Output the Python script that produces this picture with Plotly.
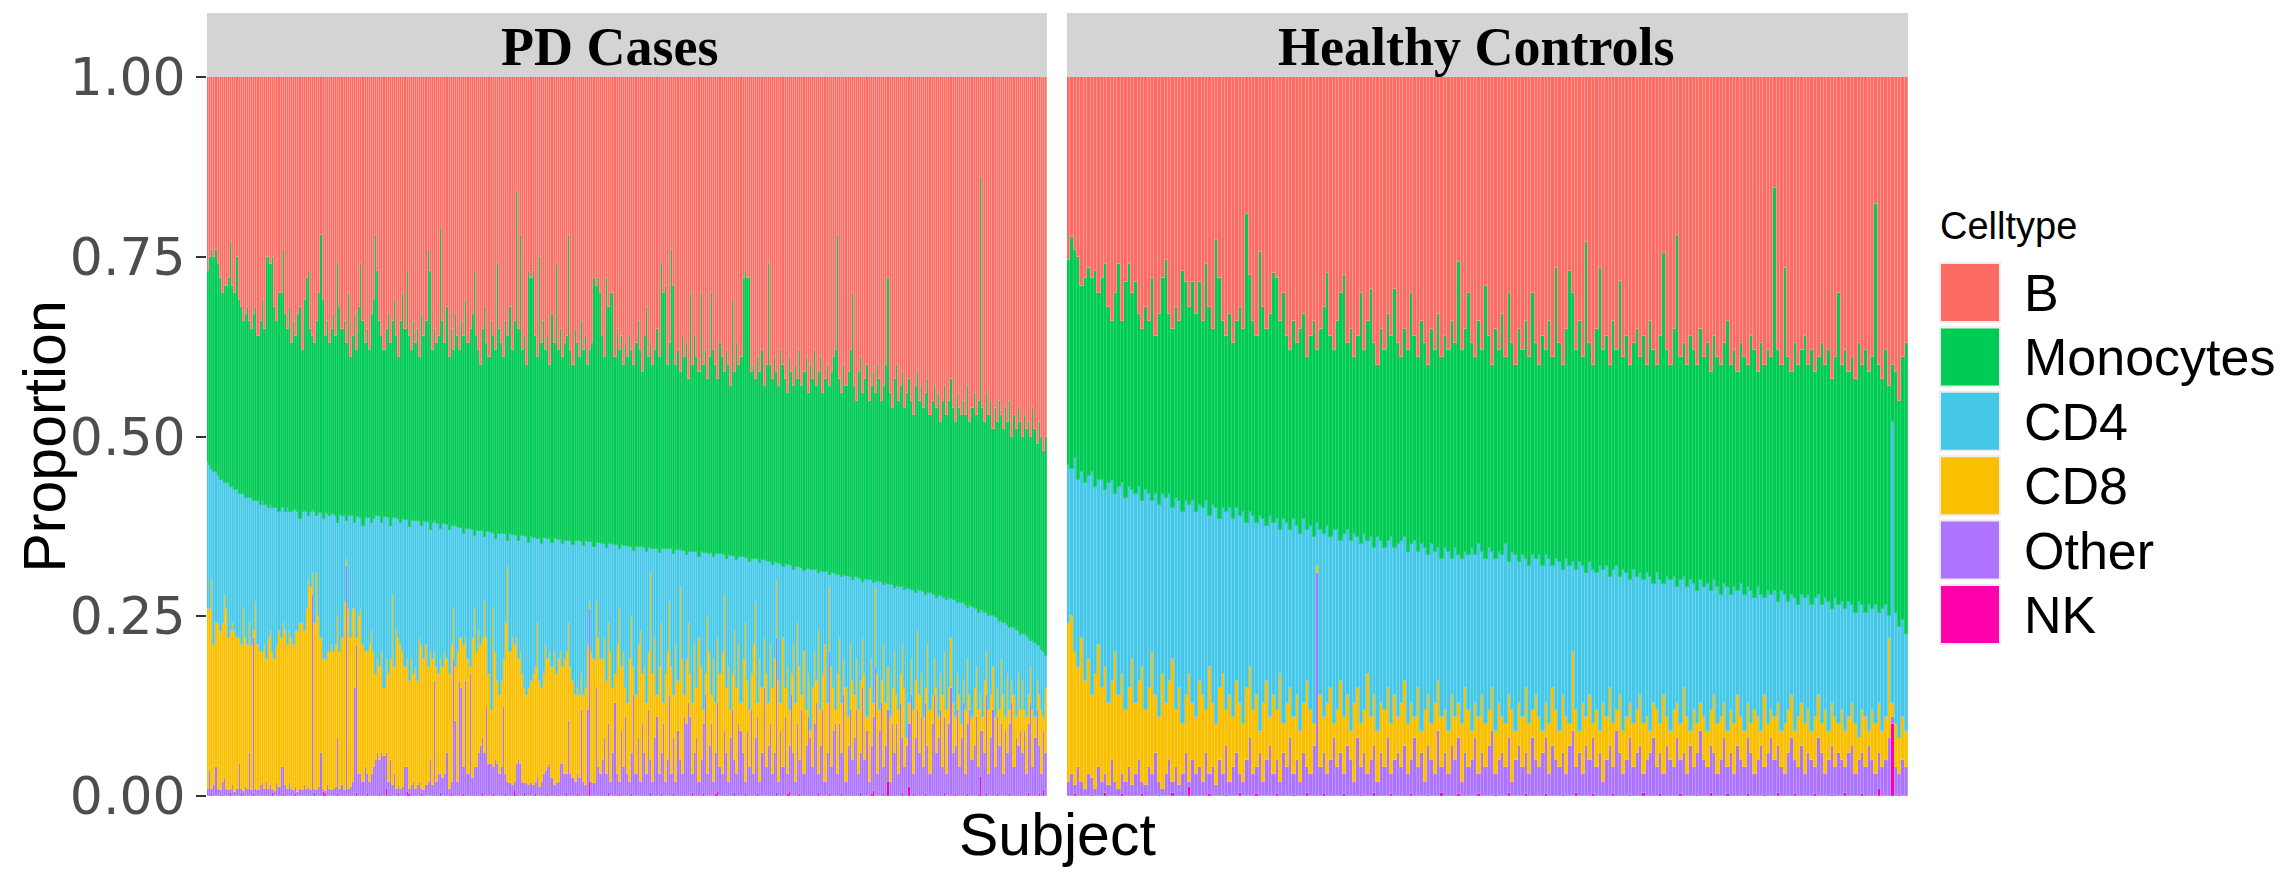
import plotly.graph_objects as go

# ---------------- data (percent, cumulative tops of each stacked layer, bottom -> top) ----------------
celltypes = ["B", "Monocytes", "CD4", "CD8", "Other", "NK"]
colors = {"B": "#FD6C62", "Monocytes": "#00CC55", "CD4": "#45C8E8",
          "CD8": "#F8C000", "Other": "#AD74FF", "NK": "#FF00AA"}
edge_colors = {"B": "#FF968F", "Monocytes": "#2ED371", "CD4": "#6FD5EE",
               "CD8": "#FACB33", "Other": "#BE92FF", "NK": "#FF33BB"}
panels = ["PD Cases", "Healthy Controls"]
y_ticks = [0, 0.25, 0.5, 0.75, 1.0]
y_ticktext = ["0.00", "0.25", "0.50", "0.75", "1.00"]

# ---- PD Cases (400 subjects) ----
pd_nk = [
0,0,0.3,0,0,0,0,0.2,0,0,0,0.4,0,0,0,0,0.3,0,0,0,
0,0,0.3,0,0,0,0,0.2,0,0,0,0.4,0,0,0,0,0.3,0,0,0,
0,0,0.3,0,0,0,0,0.2,0,0,0,0.4,0,0,0,0.6,0.3,0,0,0,
0,0,0.3,0,0,0,0,0.2,0,0,0,0.4,0,0,0,0,0.3,0,0,0,
0,0,0.3,0,0,1.0,0,0.2,0,0,0,0.4,0,0,0,0.6,0.3,0,0,0,
0,0,0.3,0,0,0,0,0.2,0,0,0,0.4,0,0,0,0,0.3,0,0,0,
0,0,0.3,0,0,0,0,0.2,0,0,0,0.4,0,0,0,0,0.3,0,0,0,
0,0,0.3,0,0,0,0.8,0.2,0,0,0,0.4,0,0,0,0,0.3,0,0,0,
0,0,0.3,0,0,0,0,0.2,0,0,0,0.4,0,0,0,0,0.3,0,0,0,
0,0,2.0,0,0,0,0,0.2,0,0,0,0.4,0,0,0,0,0.3,0,0,0,
0,0,0.3,0,0,0,0,0.2,0,0,0,0.4,0,0,0,0,0.3,0,0,0,
0,0,0.3,0,0,0,0,0.2,0,0,0,0.4,0,0,0,0,0.3,0,0,0,
0,0,0.3,0.5,0,0,0,0.2,0,0,0,0.4,0,0,0,0,0.3,0,0,0,
0,0,0.3,0,0,0,0,0.2,0,0,0,0.4,0,0,0,0,0.3,0.5,0,0,
0,0,0.3,0,0,0,0,0.2,0,0,0,0.4,0,0,0,0,0.3,0,0,0,
0,0,0.3,0,0,0,0,0.2,0,0,0,0.4,0,0,0,0,0.3,0.7,0,0,
0,0,0.3,0,1.9,0,0,0.2,0,0,0,0.4,0,0,1.2,0,0.3,0,0,0,
0,0,0.3,0,0,0,0,0.2,0,0,0,0.4,0,0,0,0,0.3,0,0,0,
0,0,0.3,0,0,0,0,0.2,2.6,0,0,0.4,0,0,0,0,0.3,0,0,0,
0,0,0.3,0,0,0,0,0.2,0,0,0,0.4,0,0,0,0,0.3,0,0.8,0]

pd_other_top = [
1,3.5,1,1.5,4,1,0.8,2,2.5,1,0.8,1,1.5,0.5,1,4.5,1,0.7,1.2,1,
6,0.8,22,1,0.8,1.5,1.8,1,2,1,1.5,1,0.7,1.8,1.2,4,4,1.5,1,1.8,
1,0.8,1.2,0.6,1,0.8,1.5,1,1.3,0.9,28,1,0.8,1.2,6,1,0.7,1.5,1,0.8,
1,1.2,8,1,1.5,0.8,32,1,1.2,2,15,21,3,3,2,4,3,2,3,4,
5,6,5,6,5.5,6,2,5,1.5,3,1,1.5,1,1.2,4,4,1,1.5,2,1,
1.5,2,1,0.8,1.5,2,5,1.5,16,2,3,3,2.5,3,6,1,2,19,10.5,2,
16,15,4,16,3,17,2.5,4,4,6,7,8,6,12.4,4.5,4.5,4,5,4.5,3,
4,12.4,3,2,1.8,1.5,2,4.5,5,4.5,2,1.8,1.8,1.6,1.8,1.5,2,2.7,1.3,2,
3,3.5,4,4.5,2.5,1.5,1.8,2,4.5,4.5,3,3,10.5,3,2.5,2,3,2.5,12,2,1.5,12,26,2,1.8,15,4,3,
5,8,3,10,2,6,13,3,2,9,4,11,3,2,6,14,3,8,2,10,
6,3,12,5,2,8,11,3,6,10,2,5,14,3,8,2,9,5,3,11,
10,13,11,3,6,8,2,5,10,14,3,7,10,2,6,13,4,3,9,6,
2,8,12,5,3,10,9,6,2,9,4,12,3,8,11,2,6,15,4,7,
10,3,6,22,2,9,4,11,3,7,14,6,2,10,5,12,3,7,11,8,
4,10,13,3,7,12,2,6,20,4,9,10,3,10,6,14,2,7,12,5,
8,12,3,6,15,5,9,2,7,11,18,3,9,13,4,7,12,2,10,6,
10,3,13,8,4,7,10,14,3,8,12,6,11,4,13,7,3,10,14,6,
8,12,4,11,3,10,15,6,7,12,4,8,13,3,10,12,5,7,11,4,
9,9,6,14,3,8,12,4,11,7,10,3,9,6,10,13,4,8,7,9,
6,9,3,10,13,4,8,12,7,3,9,6]

pd_cd8_top = [
26,26,30,21,24,24,23,24,28,26,22,23,24,23,22,22,21,26,22,21,
24,21,23,27,21,20,20,21,19,22,23,20,19,21,23,22,24,23,21,23,
22,21,23,23,24,24,23,26,30,29,31,24,31,25,22,19,19,20,20,21,
20,21,25,20,22,27,33,26,22,26,26,22,25,26,21,20,20,21,23,20,
17,19,18,20,15,19,17,19,28,18,23,22,21,20,18,19,16,19,17,18,
16,22,21,19,21,18,20,19,20,18,17,19,18,20,19,17,21,26,18,20,
22,22,21,22,19,18,22,26,20,23,21,22,27,22,17,12,26,20,16,14,
16,19,24,32,20,22,21,22,19,20,17,15,14,15,16,17,18,24,16,15,
17,21,19,20,18,20,17,19,20,18,19,20,24,18,16,14,15,14,17,14,15,21,27,20,19,27,22,19,
19,22,16,24,20,15,17,21,26,18,20,15,13,19,25,18,14,21,23,17,
18,13,20,31,17,22,14,18,24,13,17,20,27,18,14,21,16,29,19,14,
19,24,17,13,21,15,22,18,12,17,25,20,14,19,13,22,17,20,28,15,
18,12,17,23,15,21,13,19,24,16,12,17,21,27,13,19,15,22,17,13,
21,15,19,30,16,13,22,15,18,12,17,21,13,24,18,14,20,12,17,9,
15,20,16,23,12,17,21,13,29,18,15,12,17,22,13,19,15,11,21,16,
14,19,12,16,22,17,11,15,19,13,29,17,12,16,21,13,18,11,15,20,
14,12,17,21,15,8,13,19,12,16,23,14,17,11,15,21,12,14,19,15,
11,17,14,20,12,15,22,13,11,17,14,10,16,12,19,14,11,15,18,12,
14,11,16,20,12,14,18,11,15,12,19,14,11,17,12,16,14,11,17,12,
16,12,11,14,18,12,11,16,14,12,11,15]

pd_cd4_top = [
46.5,46,45.5,45,45,44.5,44,44,43.5,43.5,43.5,43,43,42.5,42.5,42,42,42,41.5,41.5,
41.5,41.5,41,41,41,40.5,41,40.5,40.5,40,40.5,40,40,40,39.5,40,40,39.5,40,39.5,
39.5,39.8,39.8,39.5,38.5,39.5,39.7,39.5,39,39.5,39.8,39.5,39,39.4,39.3,38.5,39.3,39.2,39,39.2,
39.2,39,38,39.1,39,39,38.2,39,38.9,38.9,38,38.8,38.8,38.7,37.5,38.7,38.6,38.6,38,38.5,
39,38.9,38.9,38,38.8,38.8,38.7,37.5,38.7,38.6,38.6,38.5,38,38.5,38.4,38.4,37.4,38.4,38.3,38.3,
38.3,38.2,37.5,38.2,38.1,38.1,37,38,38.3,38,37.9,37.2,37.8,37.8,37.7,37,37.6,37.5,37.5,37.4,
37.3,37.3,36.5,37.2,37.1,37.1,37,36.2,36.9,36.9,36.8,36.8,36,36.7,36.7,36.6,36.6,35.8,36.5,36.5,
36.6,36.5,36.5,35.5,36.4,36.3,36.3,36.2,35.5,36.2,36.1,36.1,36,35.2,36,35.9,35.9,35.8,35.8,35.1,
35.9,35.9,35.8,35.8,35.2,35.7,35.7,35.6,35.6,35,35.6,35.5,35.5,35.5,34.9,35.4,35.4,35.4,35.3,34.8,
35.4,35.3,35.3,35.3,34.7,35.2,35.2,35.2,35.1,35.1,34.5,35,35,35,34.9,34.9,34.3,34.9,34.8,34.8,
34.8,34.7,34.7,34.1,34.7,34.6,34.6,34.6,34.5,33.9,34.5,34.5,34.4,34.4,34.4,33.8,34.4,34.4,34.3,34.3,
34.3,34.3,33.7,34.2,34.2,34.2,34.1,34.1,33.5,34,34,34,33.9,33.9,33.3,33.9,33.8,33.8,33.8,33.7,
33.8,33.2,33.7,33.7,33.6,33.6,33.5,33,33.5,33.4,33.4,33.3,32.8,33.3,33.2,33.2,33.1,33.1,32.6,33,
33,33,32.9,32.4,32.8,32.8,32.7,32.6,32.6,32.1,32.5,32.4,32.4,32.3,31.8,32.2,32.1,32.1,32,31.5,
31.9,31.8,31.8,31.7,31.3,31.6,31.6,31.5,31.5,31.4,31.4,31,31.3,31.2,31.2,31.1,30.7,31,31,30.9,
30.8,30.8,30.4,30.7,30.6,30.6,30.5,30.1,30.4,30.4,30.3,30.2,29.8,30.2,30.1,30,30,29.6,29.9,29.8,
29.8,29.7,29.3,29.6,29.5,29.4,29.3,28.9,29.2,29.1,29,29,28.6,28.9,28.8,28.7,28.7,28.2,28.6,28.5,
28.5,28.4,28,28.3,28.2,28.1,28,27.5,27.9,27.8,27.7,27.6,27.2,27.5,27.4,27.3,27.2,26.8,27,26.9,
26.8,26.6,26.2,26.5,26.3,26.2,26,25.5,25.9,25.7,25.5,25.4,25,25.2,25,24.9,24.7,24.2,24.4,24.1,
24,23.8,23.3,23.5,23.3,23.1,22.9,22.4,22.6,22.5,22.3,22,21.5,21.6,21.3,21,20.8,20.3,20,19.5]

pd_mono_top = [
73,75,76,75,76,74,72,70,71,71,72,77,71,70,75,69,68,66,67,68,
66,65,67,68,64,66,69,65,75,75,74,75,68,66,70,70,76,67,65,68,
63,66,64,67,68,62,69,72,73,65,64,63,66,70,78,69,64,66,63,65,
67,64,74,68,65,66,63,70,61,64,67,62,68,74,66,63,65,62,67,69,
78,73,66,64,62,65,67,63,66,69,64,61,66,70,65,73,64,62,66,63,
65,61,67,64,66,76,73,62,65,63,64,79,66,63,68,61,65,62,67,64,
62,66,64,69,63,65,67,73,64,62,60,65,68,63,61,66,64,62,74,65,
63,61,66,64,68,62,66,84,65,78,62,64,60,73,72,73,64,61,75,63,
66,62,64,60,67,63,74,62,65,61,63,64,78,62,60,65,63,61,66,62,
64,60,62,63,72,71,72,70,64,61,72,68,70,70,61,65,62,64,60,63,
61,64,62,60,63,66,62,59,64,68,61,63,60,62,65,61,74,70,71,60,
63,76,71,60,62,59,64,61,63,58,70,60,64,61,59,70,60,62,58,61,
70,62,60,58,63,61,59,62,60,57,69,59,63,60,61,72,73,72,72,59,
60,58,61,59,62,57,60,74,60,58,61,59,57,62,60,58,56,61,59,57,
60,58,62,57,59,61,56,60,58,62,57,59,61,56,58,60,57,59,61,62,
78,58,56,60,57,59,62,70,57,55,59,61,56,58,60,55,57,59,56,60,
58,55,57,60,72,56,54,58,60,55,57,59,54,56,58,55,53,57,59,55,
57,54,56,58,53,55,57,54,56,52,55,57,53,55,58,54,52,56,54,53,
55,53,57,52,54,56,53,55,86,54,52,56,53,55,51,54,52,55,53,51,
54,52,55,50,53,51,54,52,50,53,51,52,50,54,51,49,52,50,48,50]

# ---- Healthy Controls (250 subjects) ----
hc_nk = [
0,0,0.3,0,0,0,0,0.2,0,0,0,0.4,0,0,0,0,0.3,0,0,0,
0,0,0.3,0,0,0,0,0.2,0,0,0,0.4,0,0,0,0,1.2,0,0,0,
0,0,0.3,0,0,0,0,0.2,0,0,0,0.4,0,0,0,0,0.3,0,0,0,
0,0,0.3,0,0,0,0,0.2,0,0,0,0.4,0,0,0,0,0.3,0,0,0,
0,0,0.3,0,0,0,0,0.2,0,0,0,0.4,0,0,0,0,0.3,0,0,0,
0,0,0.3,0,0,0,0,0.2,0,0,0,0.4,0,0,0,0,0.3,0,0,0,
0,0,0.3,0,0,0,0,0.2,0,0,0,0.4,0,0,0,0,0.3,0,0,0,
0,0,0.3,0,0,0,0,0.2,0,0,0,0.4,0,0,0,0,0.3,0,0,0,
0,0,0.3,0,0,0,0,0.2,0,0,0,0.4,0,0,0,0,0.3,0,0,0,
0,0,0.3,0,0,0,0,0.2,0,0,0,0.4,0,0,0,0,0.3,0,0,0,
0,0,0.3,0,0,0,0,0.2,0,0,0,0.4,0,0,0,0,0.3,0,0,0,
0,0,0.3,0,0,0,0,0.2,0,0,0,0.4,0,0,0,0,0.3,0,0,0,
0,1.0,0,0,0,10,0,0.2,0,0]

hc_other_top = [
2,3,1.5,4,2,1,3,2.5,1,4,2,3,1.5,5,2,1,3,2,4,1.5,
3,5,2,1.5,4,3,6,2,1,3,5,2,4,1.5,3,6,2,5,3,4,
2,6,3,4,1.5,5,3,7,2,4,6,3,2,5,8,3,4,6,2,5,
7,3,5,2,6,4,8,3,5,2,6,4,3,7,31,4,6,3,5,8,
4,6,3,7,5,2,8,4,6,3,5,7,2,6,4,8,3,5,6,4,
7,3,5,8,4,6,2,7,5,3,9,4,6,3,7,5,8,2,6,4,
5,8,3,6,4,7,9,3,5,6,4,8,2,5,7,4,6,3,8,5,
4,6,8,3,7,5,4,6,3,7,
9,4,6,3,7,5,8,4,6,2,5,7,4,9,6,3,5,8,4,6,
7,3,5,6,8,4,6,3,7,5,4,8,5,6,3,7,4,6,9,5,
4,7,6,3,5,8,4,6,3,7,5,4,8,6,3,5,7,4,6,8,
5,7,4,3,6,8,5,4,7,3,6,5,4,8,6,3,5,7,4,6,
5,4,6,7,3,5,6,4,7,5,3,6,4,5,8,11,4,3,5,4]

hc_cd8_top = [
24,25,20,18,22,16,19,14,17,21,15,18,13,16,20,14,17,12,15,19,
13,16,18,12,15,20,14,11,17,13,16,19,12,15,10,14,17,13,11,16,
14,12,18,13,10,15,17,12,14,11,16,13,10,15,18,12,14,9,13,16,
11,14,12,17,10,13,15,11,14,9,13,16,12,10,32,14,11,13,15,10,
12,16,11,14,9,13,15,10,12,17,11,14,9,13,12,15,10,14,11,13,
16,10,13,11,15,9,12,14,10,13,16,11,12,9,14,11,13,10,15,12,
9,13,11,14,10,12,15,9,13,11,10,14,12,9,13,11,15,10,12,14,
11,9,13,10,15,12,9,14,11,10,
20,12,9,13,11,14,10,12,9,13,11,15,10,12,14,9,11,13,10,12,
14,10,11,9,13,12,10,14,11,9,12,13,10,15,11,9,12,10,13,11,
9,12,14,10,11,13,9,12,10,14,11,9,13,10,12,11,9,14,10,12,
11,13,9,10,12,14,9,11,13,10,12,9,11,14,10,12,9,13,11,10,
12,9,11,13,10,8,12,11,9,12,10,13,9,11,22,13,10,8,11,9]

hc_cd4_top = [
46,45.5,47,44,45,43.5,44.5,45,43,44,44,42.5,43.5,44,42,43,43.5,41.5,43,42.5,
42,43,41,42.5,42,41,42,40.5,42,41.5,42,40,41.5,41,39.5,41,40.5,41,39.5,40.5,
40,41,39,40.5,40,38.5,40,39.5,40,38.5,40,39,39.5,38,39.5,39,38,39,38.5,37.5,
39,38,38.5,37,38.5,38,37,38.5,37.5,36.5,38.5,37,37.5,36,38,37,36.5,37.5,36,37,
37,35.5,36.5,37,35.5,36.5,36,35,36.5,35.5,36,34.5,36,35.5,34.5,35.5,36,34.5,35,35.5,
36,34,35,35.5,34,35,34.5,33.5,35,34,34.5,33,34.5,34,33,34.5,33.5,33,34,33.5,
34.5,33.5,35,34,33,34.5,34,33,34,33.5,35,32.5,34,33.5,32.5,33.5,33,32,33.5,33,
33.5,32,33.5,33,32,33,32.5,31.5,33,32,32.5,31.5,32.5,32,31,32.5,31.5,31,32,31.5,
32,30.5,31.5,32,30.5,31.5,31,30,31.5,30.5,31,30,31,30.5,29.5,31,30,29.5,30.5,30,
30.5,29,30,30.5,29,30,29.5,28.5,30,29,29.5,28.5,30,29,28,29.5,29,28,29,28.5,
29.5,28,29,28.5,27.5,29,28,27.5,28.5,28,28.5,27,28.5,28,27,28,27.5,26.5,28,27.5,
28,26.5,27.5,28,26.5,27.5,27,26,27.5,26.5,27,26,27,26.5,25.5,27,26.5,25.5,26.5,26,
26.5,25.5,26,26.5,25,52,25.5,23.5,24.5,22.5]

hc_mono_top = [
74.5,77.7,76,75,71,72,73.4,72,73,70,72,74,68,66,70,74,66,71.5,74,70,
71.5,67,65,68,66,72,64,67,72,74.5,67,65,68,66,73,71.5,68,71.5,67,71.5,
66,74,68,65,77.3,72,66,64,67,63,66,68,65,81,72.5,66,64,75.7,68,65,
67,72.7,72,66,70,64,62,66,63,65,67,61,64,66,62,65,68,72.7,64,62,
66,70,72.5,63,65,61,64,70,62,66,70.5,63,60,65,62,67,64,70.5,63,61,
65,62,70,64,61,66,63,60,65,62,67,61,64,62,66,63,74.3,62,65,70,
63,61,66,62,71,64,60,65,62,67,61,70,63,60,65,62,66,61,70,63,
60,64,62,66,61,73.4,63,60,65,73,70,62,66,61,77,63,60,65,73.5,62,
64,60,66,62,71.6,61,64,60,63,65,61,64,60,66,62,60,64,75.5,62,60,
65,78,61,63,60,64,62,60,65,61,63,59,64,61,60,63,66,60,62,59,
63,61,60,64,62,59,63,60,62,61,84.5,62,60,73.5,61,59,63,60,62,64,
60,62,59,61,63,60,62,58,61,70,60,62,59,61,58,63,60,62,59,61,
82.3,60,58,62,57,60,59,55,61,63]

assert len(pd_nk) == len(pd_other_top) == len(pd_cd8_top) == len(pd_cd4_top) == len(pd_mono_top) == 400
assert len(hc_nk) == len(hc_other_top) == len(hc_cd8_top) == len(hc_cd4_top) == len(hc_mono_top) == 250

panel_tops = {
    "PD Cases": [pd_nk, pd_other_top, pd_cd8_top, pd_cd4_top, pd_mono_top],
    "Healthy Controls": [hc_nk, hc_other_top, hc_cd8_top, hc_cd4_top, hc_mono_top],
}
stack_order = ["NK", "Other", "CD8", "CD4", "Monocytes", "B"]  # bottom -> top

# ---------------- geometry (target pixels of the 2282 x 872 screenshot) ----------------
# the page body adds an 8px margin on the top/left, so the figure itself is 8px smaller
OFF = 8
W, H = 2282 - OFF, 872 - OFF
panel_px = {"PD Cases": (207, 1047), "Healthy Controls": (1067, 1908)}
strip_label_dx = {"PD Cases": -18, "Healthy Controls": -11}
plot_top, plot_bot = 77, 796
strip_top = 13


def fx(p):
    return (p - OFF) / W


def fy(p):
    return 1 - (p - OFF) / H


fig = go.Figure()
axis_ids = {"PD Cases": "x", "Healthy Controls": "x2"}

for panel in panels:
    tops = panel_tops[panel]
    n = len(tops[0])
    xs = list(range(n))
    cum = tops + [[100.0] * n]
    prev = [0.0] * n
    for name, layer in zip(stack_order, cum):
        seg = [max(0.0, (t - p)) / 100.0 for t, p in zip(layer, prev)]
        prev = [max(t, p) for t, p in zip(layer, prev)]
        fig.add_trace(go.Bar(
            x=xs, y=seg, name=name, xaxis=axis_ids[panel], yaxis="y",
            marker=dict(color=colors[name], line=dict(width=1, color=edge_colors[name])),
            showlegend=False, hovertemplate=name + ": %{y:.3f}<extra></extra>",
        ))

axis_common = dict(showticklabels=False, ticks="", showgrid=False, zeroline=False,
                   showline=False, fixedrange=True, automargin=False)
fig.update_layout(
    xaxis=dict(domain=[fx(207), fx(1047)], range=[-0.5, 399.5], anchor="y", **axis_common),
    xaxis2=dict(domain=[fx(1067), fx(1908)], range=[-0.5, 249.5], anchor="y", **axis_common),
    yaxis=dict(domain=[fy(plot_bot), fy(plot_top)], range=[0, 1], anchor="x",
               tickvals=y_ticks, ticktext=y_ticktext, ticks="outside", ticklen=10,
               tickwidth=2, tickcolor="#333333", showgrid=False, zeroline=False,
               showline=False, fixedrange=True, automargin=False,
               tickfont=dict(family="DejaVu Sans, Liberation Sans, sans-serif", size=52, color="#4D4D4D")),
    barmode="stack", bargap=0,
    width=W, height=H, autosize=False,
    margin=dict(l=0, r=0, t=0, b=0, pad=0, autoexpand=False),
    plot_bgcolor="white", paper_bgcolor="white", showlegend=False,
)

shapes = []
annotations = []
# facet strips
for panel in panels:
    x0, x1 = panel_px[panel]
    shapes.append(dict(type="rect", xref="paper", yref="paper", x0=fx(x0), x1=fx(x1),
                       y0=fy(plot_top), y1=fy(strip_top), fillcolor="#D4D4D4", line=dict(width=0),
                       layer="above"))
    annotations.append(dict(text="<b>" + panel + "</b>", xref="paper", yref="paper",
                            x=fx((x0 + x1) / 2 + strip_label_dx[panel]), y=fy((strip_top + plot_top) / 2 + 2),
                            xanchor="center", yanchor="middle", showarrow=False,
                            font=dict(family="Liberation Serif, Times New Roman, serif", size=54, color="black")))

# axis titles
annotations.append(dict(text="Proportion", xref="paper", yref="paper", x=fx(44), y=fy((plot_top + plot_bot) / 2),
                        xanchor="center", yanchor="middle", textangle=-90, showarrow=False,
                        font=dict(family="Liberation Sans, Arial, sans-serif", size=59, color="black")))
annotations.append(dict(text="Subject", xref="paper", yref="paper", x=fx((207 + 1908) / 2), y=fy(835),
                        xanchor="center", yanchor="middle", showarrow=False,
                        font=dict(family="Liberation Sans, Arial, sans-serif", size=59, color="black")))

# legend (drawn)
annotations.append(dict(text="Celltype", xref="paper", yref="paper", x=fx(1938), y=fy(226),
                        xanchor="left", yanchor="middle", showarrow=False,
                        font=dict(family="Liberation Sans, Arial, sans-serif", size=38, color="black")))
for i, name in enumerate(celltypes):
    top = 263 + i * 64.4
    shapes.append(dict(type="rect", xref="paper", yref="paper", x0=fx(1940), x1=fx(2000),
                       y0=fy(top + 59), y1=fy(top), fillcolor=colors[name],
                       line=dict(width=2, color="#EDEDED")))
    annotations.append(dict(text=name, xref="paper", yref="paper", x=fx(2022), y=fy(top + 30),
                            xanchor="left", yanchor="middle", showarrow=False,
                            font=dict(family="Liberation Sans, Arial, sans-serif", size=52, color="black")))

fig.update_layout(shapes=shapes, annotations=annotations)
fig.write_html("out.html")
